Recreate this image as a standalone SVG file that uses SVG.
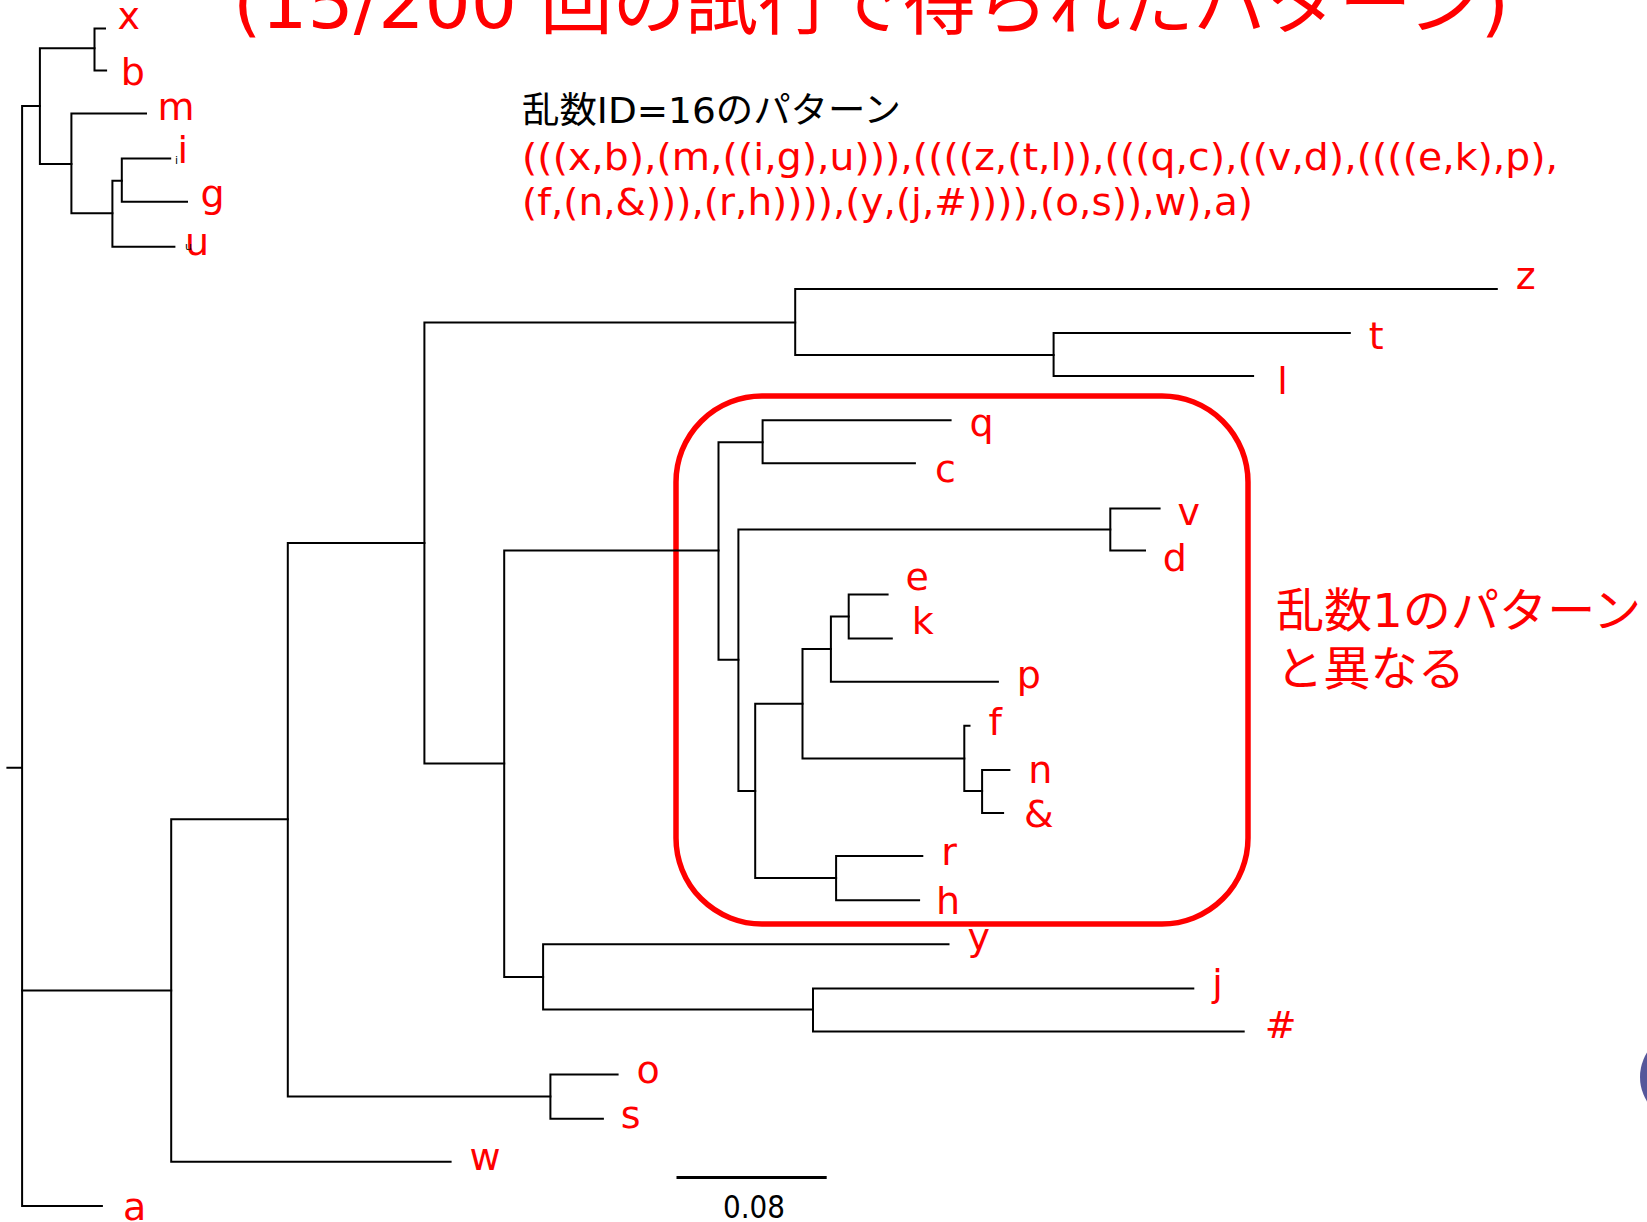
<svg xmlns="http://www.w3.org/2000/svg" width="1647" height="1222" viewBox="0 0 1647 1222">
<style>
.br{stroke:#000;stroke-width:2;fill:none;stroke-linecap:square}
.lab{font-family:"DejaVu Sans","Noto Sans CJK JP",sans-serif;font-size:38px;fill:#f00}
.jp{font-family:"DejaVu Sans","Noto Sans CJK JP",sans-serif}
.tiny{font-family:"DejaVu Sans",sans-serif;font-size:11px;fill:#000}
</style>
<rect width="1647" height="1222" fill="#fff"/>
<g id="title">
<text class="jp" x="233" y="28" font-size="72" fill="#f00" textLength="1276" lengthAdjust="spacingAndGlyphs">(15/200 回の試行で得られたパターン)</text>
</g>
<g id="caption">
<text class="jp" x="522" y="123" font-size="36" fill="#000" textLength="379" lengthAdjust="spacingAndGlyphs">乱数ID=16のパターン</text>
<text class="jp" x="522" y="170" font-size="38" fill="#f00" textLength="1036" lengthAdjust="spacingAndGlyphs">(((x,b),(m,((i,g),u))),((((z,(t,l)),(((q,c),((v,d),((((e,k),p),</text>
<text class="jp" x="522" y="215" font-size="38" fill="#f00" textLength="731" lengthAdjust="spacingAndGlyphs">(f,(n,&amp;))),(r,h)))),(y,(j,#)))),(o,s)),w),a)</text>
</g>
<g id="highlight">
<rect x="676" y="396" width="572" height="528" rx="86" ry="86" fill="none" stroke="#f00" stroke-width="5.5"/>
<text class="jp" x="1276" y="627" font-size="47" fill="#f00" textLength="365" lengthAdjust="spacingAndGlyphs">乱数1のパターン</text>
<text class="jp" x="1276" y="685" font-size="47" fill="#f00" textLength="189" lengthAdjust="spacingAndGlyphs">と異なる</text>
</g>
<g id="connectors">
<path class="br" d="M7.4 767.8 H22.1 M39.9 106.1 H22.1 V1205.9 H101.9"/>
<path class="br" d="M94.5 48.3 H39.9 V163.9 H71.4"/>
<path class="br" d="M105 28.4 H94.5 V70.4 H106.1"/>
<path class="br" d="M146 113.4 H71.4 V213.2 H112.4"/>
<path class="br" d="M121.8 180.7 H112.4 V246.8 H174.4"/>
<path class="br" d="M170.2 158.6 H121.8 V201.7 H187"/>
<path class="br" d="M22.1 990.5 H171.2"/>
<path class="br" d="M287.8 819.3 H171.2 V1161.7 H450.6"/>
<path class="br" d="M424.4 543.1 H287.8 V1096.6 H550.4"/>
<path class="br" d="M617.6 1074.6 H550.4 V1118.7 H602.9"/>
<path class="br" d="M795.2 322.5 H424.4 V763.6 H504.2"/>
<path class="br" d="M1496.8 288.9 H795.2 V355 H1053.6"/>
<path class="br" d="M1349.8 333 H1053.6 V376 H1253.1"/>
<path class="br" d="M718.5 550.4 H504.2 V976.9 H543.1"/>
<path class="br" d="M948.5 944.3 H543.1 V1009.4 H813"/>
<path class="br" d="M1193.3 988.4 H813 V1031.5 H1243.7"/>
<path class="br" d="M762.6 442.2 H718.5 V659.7 H738.4"/>
<path class="br" d="M950.6 420.2 H762.6 V463.2 H914.9"/>
<path class="br" d="M1110.3 529.4 H738.4 V791 H755.2"/>
<path class="br" d="M1159.6 508.4 H1110.3 V550.4 H1145"/>
<path class="br" d="M802.5 703.8 H755.2 V878.1 H836.1"/>
<path class="br" d="M830.9 649.1 H802.5 V758.4 H964.3"/>
<path class="br" d="M848.7 616.6 H830.9 V681.7 H997.9"/>
<path class="br" d="M887.6 594.5 H848.7 V638.6 H891.8"/>
<path class="br" d="M969.5 725.8 H964.3 V791 H982.1"/>
<path class="br" d="M1009.4 769.9 H982.1 V813 H1003.1"/>
<path class="br" d="M922.3 856.1 H836.1 V900.2 H919.1"/>
</g>
<g id="leaf-x"><text class="lab" x="117.5" y="29.4">x</text></g>
<g id="leaf-b"><text class="lab" x="120.8" y="85.1">b</text></g>
<g id="leaf-m"><text class="lab" x="157.6" y="119.7">m</text></g>
<g id="leaf-i"><text class="lab" x="177.5" y="162.8">i</text><text class="tiny" x="175" y="164">i</text></g>
<g id="leaf-g"><text class="lab" x="200.6" y="206.9">g</text></g>
<g id="leaf-u"><text class="lab" x="184.9" y="255.3">u</text><text class="tiny" x="185" y="250">u</text></g>
<g id="leaf-z"><text class="lab" x="1515.7" y="288.9">z</text></g>
<g id="leaf-t"><text class="lab" x="1368.7" y="348.7">t</text></g>
<g id="leaf-l"><text class="lab" x="1277.3" y="393.9">l</text></g>
<g id="leaf-q"><text class="lab" x="969.5" y="435.9">q</text></g>
<g id="leaf-c"><text class="lab" x="934.9" y="482.1">c</text></g>
<g id="leaf-v"><text class="lab" x="1177.5" y="525.2">v</text></g>
<g id="leaf-d"><text class="lab" x="1162.8" y="571.4">d</text></g>
<g id="leaf-e"><text class="lab" x="905.4" y="590.3">e</text></g>
<g id="leaf-k"><text class="lab" x="911.8" y="634.4">k</text></g>
<g id="leaf-p"><text class="lab" x="1016.8" y="688">p</text></g>
<g id="leaf-f"><text class="lab" x="988.4" y="735.3">f</text></g>
<g id="leaf-n"><text class="lab" x="1028.3" y="782.5">n</text></g>
<g id="leaf-amp"><text class="lab" x="1024.1" y="826.7">&amp;</text></g>
<g id="leaf-r"><text class="lab" x="941.2" y="864.5">r</text></g>
<g id="leaf-h"><text class="lab" x="935.9" y="913.8">h</text></g>
<g id="leaf-y"><text class="lab" x="967.4" y="949.6">y</text></g>
<g id="leaf-j"><text class="lab" x="1212.2" y="995.8">j</text></g>
<g id="leaf-hash"><text class="lab" x="1264.7" y="1037.8">#</text></g>
<g id="leaf-o"><text class="lab" x="636.5" y="1083">o</text></g>
<g id="leaf-s"><text class="lab" x="620.8" y="1128.1">s</text></g>
<g id="leaf-w"><text class="lab" x="469.5" y="1170.3">w</text></g>
<g id="leaf-a"><text class="lab" x="122.9" y="1219.5">a</text></g>
<g id="scale">
<path d="M676.5 1177.5 H826.7" stroke="#000" stroke-width="3"/>
<text class="jp" x="723" y="1218" font-size="32" fill="#000" textLength="62" lengthAdjust="spacingAndGlyphs">0.08</text>
</g>
<circle cx="1686" cy="1077" r="46" fill="#55579a"/>
</svg>
